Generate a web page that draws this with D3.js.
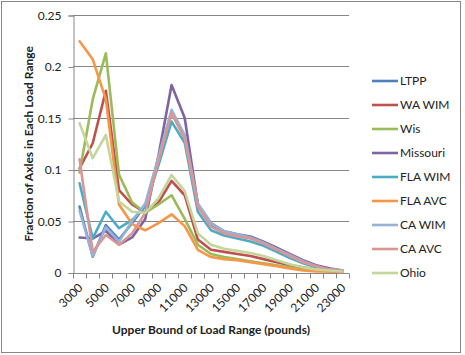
<!DOCTYPE html>
<html><head><meta charset="utf-8">
<script src="https://cdn.jsdelivr.net/npm/d3@7"></script>
<style>
html,body{margin:0;padding:0;background:#fff;}
svg{display:block;font-family:Lato,"Open Sans",sans-serif;}
</style></head>
<body>
<svg id="c" width="465" height="355"></svg>
<script>
const categories = [3000,4000,5000,6000,7000,8000,9000,10000,11000,12000,13000,14000,15000,16000,17000,18000,19000,20000,21000,22000,23000];
const tickLabels = ["3000","5000","7000","9000","11000","13000","15000","17000","19000","21000","23000"];
const yTicks = [0,0.05,0.1,0.15,0.2,0.25];
const seriesNames = ["LTPP","WA WIM","Wis","Missouri","FLA WIM","FLA AVC","CA WIM","CA AVC","Ohio"];
const seriesColors = ["#4F81BD","#C0504D","#9BBB59","#8064A2","#4BACC6","#F79646","#95B3D7","#D99694","#C3D69B"];
const ltpp    = [0.064,0.0153,0.046,0.032,0.048,0.065,0.111,0.156,0.132,0.066,0.046,0.039,0.036,0.034,0.029,0.023,0.017,0.011,0.006,0.003,0.002];
const waWim   = [0.101,0.1255,0.1765,0.080,0.066,0.058,0.068,0.089,0.075,0.032,0.022,0.020,0.018,0.016,0.013,0.010,0.007,0.005,0.003,0.002,0.001];
const wis     = [0.097,0.168,0.2128,0.095,0.068,0.058,0.066,0.075,0.052,0.027,0.018,0.015,0.013,0.011,0.009,0.007,0.005,0.003,0.002,0.001,0.001];
const missouri= [0.034,0.033,0.0405,0.027,0.034,0.052,0.113,0.182,0.150,0.066,0.048,0.040,0.037,0.035,0.030,0.024,0.018,0.012,0.007,0.004,0.002];
const flaWim  = [0.0866,0.0332,0.059,0.043,0.051,0.064,0.104,0.1465,0.126,0.059,0.041,0.036,0.033,0.030,0.026,0.020,0.014,0.009,0.005,0.003,0.0015];
const flaAvc  = [0.2245,0.207,0.168,0.066,0.047,0.041,0.048,0.0565,0.045,0.022,0.015,0.013,0.012,0.010,0.008,0.006,0.004,0.002,0.001,0.001,0.0005];
const caWim   = [0.060,0.016,0.044,0.030,0.050,0.067,0.112,0.158,0.1335,0.067,0.048,0.040,0.037,0.034,0.029,0.023,0.017,0.011,0.006,0.003,0.002];
const caAvc   = [0.110,0.020,0.0364,0.027,0.038,0.058,0.108,0.1545,0.130,0.064,0.0445,0.038,0.035,0.033,0.028,0.022,0.016,0.010,0.006,0.003,0.002];
const ohio    = [0.145,0.111,0.1335,0.069,0.059,0.058,0.072,0.0947,0.079,0.038,0.027,0.023,0.021,0.019,0.016,0.012,0.008,0.005,0.003,0.002,0.001];
const seriesValues = [ltpp,waWim,wis,missouri,flaWim,flaAvc,caWim,caAvc,ohio];

const svg = d3.select("#c");
const L = 73, R = 349, T = 15, B = 272.5;
const grid = "#868686", txt = "#222";

// outer border
svg.append("rect").attr("x",1.5).attr("y",1.5).attr("width",459).attr("height",351)
  .attr("fill","none").attr("stroke",grid).attr("stroke-width",1);

const x = d3.scaleBand().domain(categories).range([L,R]).paddingInner(0).paddingOuter(0);
const y = d3.scaleLinear().domain([0,0.25]).range([B,T]);
const cx = c => x(c) + x.bandwidth()/2;

// gridlines
svg.append("g").selectAll("line").data(yTicks.slice(1)).join("line")
  .attr("x1",L).attr("x2",R).attr("y1",d=>Math.round(y(d))+0.5).attr("y2",d=>Math.round(y(d))+0.5)
  .attr("stroke",grid).attr("stroke-width",1);

// y axis
const yAxis = d3.axisLeft(y).tickValues(yTicks).tickSize(5).tickPadding(7)
  .tickFormat(d=> d===0 ? "0" : String(d));
const gy = svg.append("g").attr("transform",`translate(${L+0.5},0.5)`).call(yAxis);
gy.select(".domain").attr("stroke",grid);
gy.selectAll(".tick line").attr("stroke",grid);
gy.selectAll(".tick text").attr("fill",txt).style("font-size","12px").style("font-family","Lato");

// x axis: tick marks at category boundaries
const gx = svg.append("g").attr("transform",`translate(0,${Math.round(B)+0.5})`);
gx.append("line").attr("x1",L).attr("x2",R).attr("stroke",grid);
const bounds = categories.map(c=>x(c)).concat([x(categories[categories.length-1])+x.bandwidth()]);
gx.selectAll("line.tk").data(bounds).join("line").attr("class","tk")
  .attr("x1",d=>Math.round(d)+0.5).attr("x2",d=>Math.round(d)+0.5).attr("y1",0).attr("y2",5)
  .attr("stroke",grid);
gx.selectAll("text").data(tickLabels).join("text")
  .attr("transform",d=>`translate(${cx(+d)+1},${12}) rotate(-45)`)
  .attr("text-anchor","end").attr("dy","0.35em")
  .attr("fill",txt).style("font-size","12px").text(d=>d);

// lines
const line = d3.line().x((d,i)=>cx(categories[i])).y(d=>y(d));
svg.append("g").selectAll("path").data(seriesValues).join("path")
  .attr("d",d=>line(d)).attr("fill","none")
  .attr("stroke",(d,i)=>seriesColors[i]).attr("stroke-width",2.6)
  .attr("stroke-linejoin","round").attr("stroke-linecap","round");

// axis titles
svg.append("text").attr("x",(L+R)/2).attr("y",334).attr("text-anchor","middle")
  .attr("fill",txt).style("font-size","12px").style("font-weight","bold")
  .text("Upper Bound of Load Range (pounds)");
svg.append("text").attr("transform",`translate(33,${(T+B)/2}) rotate(-90)`).attr("text-anchor","middle")
  .attr("fill",txt).style("font-size","12px").style("font-weight","bold")
  .text("Fraction of Axles in Each Load Range");

// legend
const lg = svg.append("g");
seriesNames.forEach((n,i)=>{
  const yy = 81 + i*24;
  lg.append("line").attr("x1",372).attr("x2",398).attr("y1",yy).attr("y2",yy)
    .attr("stroke",seriesColors[i]).attr("stroke-width",2.6);
  lg.append("text").attr("x",400).attr("y",yy).attr("dy","0.35em")
    .attr("fill",txt).style("font-size","12px").text(n);
});
</script>
</body></html>
